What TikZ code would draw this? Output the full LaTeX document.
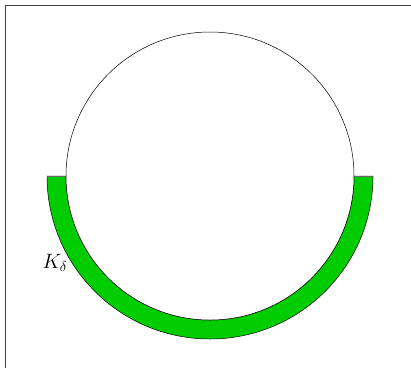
\documentclass[tikz,border=0pt]{standalone}
\begin{document}
\begin{tikzpicture}[x=1pt,y=-1pt,
  frameline/.style={draw=black!75,line width=1.8pt},
  ring/.style={fill=green!80!black,draw=black,line width=0.5pt},
  disc/.style={draw=black,line width=0.5pt,fill=white}]
\useasboundingbox (0,0) rectangle (411,367);
\coordinate (c) at (210,176);
% frame (top and left visible)
\draw[frameline] (5.5,380) -- (5.5,5.5) -- (420,5.5);
% green half annulus
\path[ring] (47,176) arc[start angle=180,end angle=0,radius=163]
  -- (354,176) arc[start angle=0,end angle=180,radius=144] -- cycle;
\draw[black!60,line width=0.6pt] (47,176) -- (66,176) (354,176) -- (373,176);
% circle
\draw[disc] (c) circle[radius=144];
\node[font=\fontsize{20}{24}\selectfont] (k) at (55,263) {$K_\delta$};
\end{tikzpicture}
\end{document}
